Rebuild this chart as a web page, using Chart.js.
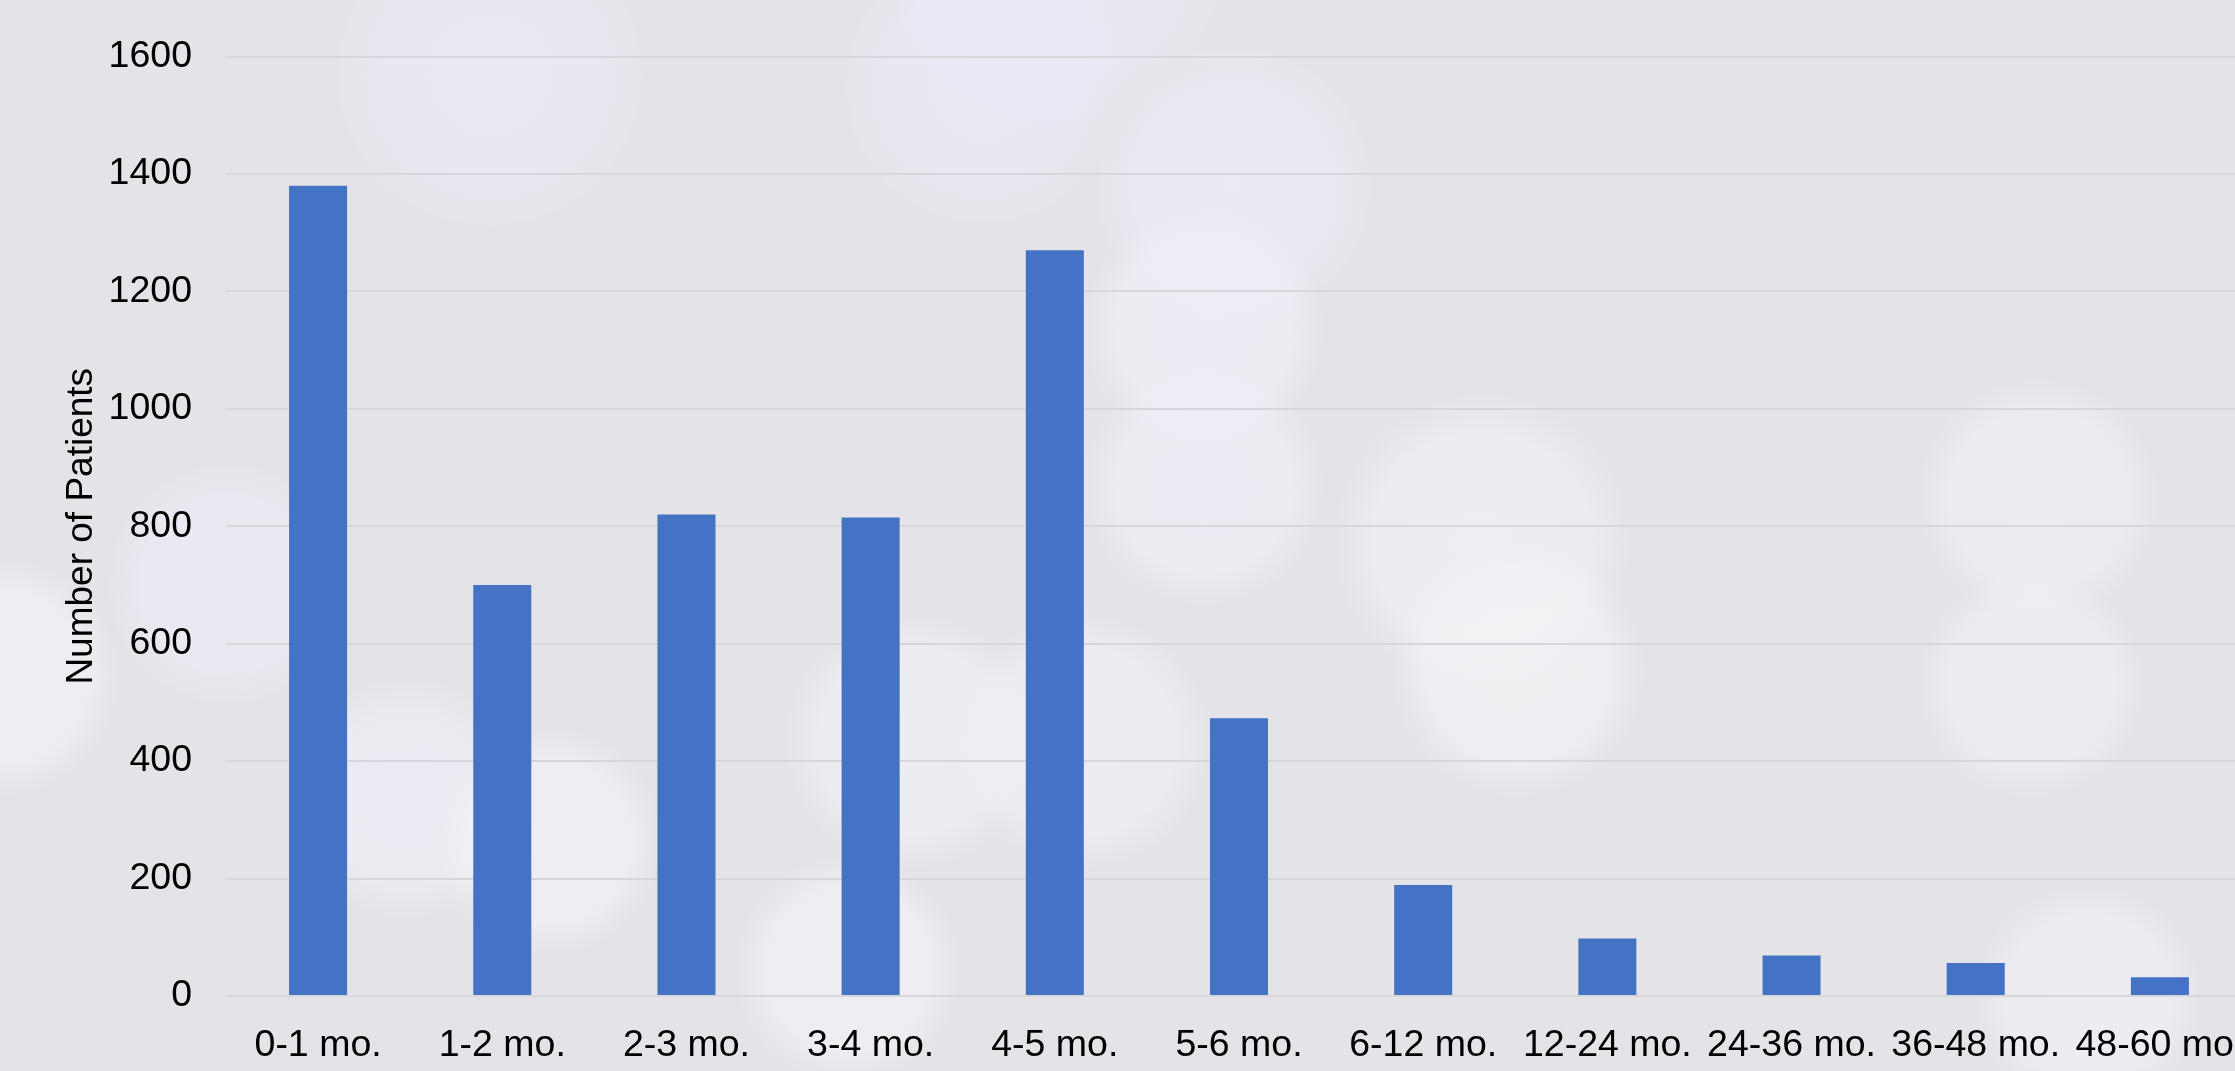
<!DOCTYPE html>
<html>
<head>
<meta charset="utf-8">
<title>Number of Patients</title>
<script src="https://cdn.jsdelivr.net/npm/chart.js@4.4.0/dist/chart.umd.min.js"></script>
<style>
    html, body { margin: 0; padding: 0; overflow: hidden; background: #e4e4e8; }
    #wrap { position: relative; width: 2235px; height: 1071px; overflow: hidden; }
    #barChart { position: absolute; left: 0; top: 0; }
</style>
</head>
<body>
<div id="wrap"><canvas id="barChart" width="2300" height="1071"></canvas></div>
<script>
// dados do gráfico
const categories = ['0-1 mo.', '1-2 mo.', '2-3 mo.', '3-4 mo.', '4-5 mo.', '5-6 mo.',
    '6-12 mo.', '12-24 mo.', '24-36 mo.', '36-48 mo.', '48-60 mo.'];
const patients = [1380, 700, 820, 815, 1270, 473, 189, 98, 69, 56, 32];
const yTicks = [0, 200, 400, 600, 800, 1000, 1200, 1400, 1600];

// fundo com bolhas desfocadas (x, y, raio, cor)
const bokeh = [
    [490, 74, 155, '236,234,248'],
    [983, 85, 140, '236,234,248'],
    [1233, 185, 140, '238,236,250'],
    [1055, -43, 170, '236,234,248'],
    [1204, 328, 121, '240,240,250'],
    [1204, 485, 121, '240,240,250'],
    [1482, 542, 150, '240,242,246'],
    [1518, 670, 128, '242,244,246'],
    [2038, 499, 121, '240,240,248'],
    [2031, 684, 114, '240,240,248'],
    [2088, 998, 114, '240,240,248'],
    [0, 677, 120, '242,242,248'],
    [228, 584, 121, '238,236,248'],
    [406, 798, 121, '240,238,248'],
    [549, 841, 114, '242,242,248'],
    [912, 741, 128, '240,240,248'],
    [1083, 741, 128, '240,240,248'],
    [848, 969, 114, '242,242,248']
];

const fontFamily = "'Liberation Sans', Arial, sans-serif";

const bokehBackground = {
    id: 'bokehBackground',
    beforeDraw(chart) {
        const ctx = chart.ctx;
        ctx.save();
        ctx.fillStyle = '#e4e4e8';
        ctx.fillRect(0, 0, chart.width, chart.height);
        bokeh.forEach(function (b) {
            const g = ctx.createRadialGradient(b[0], b[1], 0, b[0], b[1], b[2]);
            g.addColorStop(0, 'rgba(' + b[3] + ',0.7)');
            g.addColorStop(0.72, 'rgba(' + b[3] + ',0.62)');
            g.addColorStop(1, 'rgba(' + b[3] + ',0)');
            ctx.fillStyle = g;
            ctx.beginPath();
            ctx.arc(b[0], b[1], b[2], 0, Math.PI * 2);
            ctx.fill();
        });
        ctx.restore();
    }
};

const ctx = document.getElementById('barChart').getContext('2d');
new Chart(ctx, {
    type: 'bar',
    data: {
        labels: categories,
        datasets: [{
            label: 'Number of Patients',
            data: patients,
            backgroundColor: '#4472C4',
            borderWidth: 0,
            barPercentage: 0.315,
            categoryPercentage: 1
        }]
    },
    options: {
        responsive: false,
        animation: false,
        layout: { padding: { top: 56, right: 48, left: 0, bottom: 0 } },
        plugins: { legend: { display: false }, tooltip: { enabled: false } },
        scales: {
            x: {
                grid: { display: false },
                border: { display: false },
                ticks: {
                    color: '#000',
                    font: { family: fontFamily, size: 37.5 },
                    padding: 19,
                    maxRotation: 0,
                    autoSkip: false
                },
                afterFit: function (scale) { scale.height = 75; }
            },
            y: {
                min: yTicks[0],
                max: yTicks[yTicks.length - 1],
                afterBuildTicks: function (scale) {
                    scale.ticks = yTicks.map(function (v) { return { value: v }; });
                },
                ticks: {
                    color: '#000',
                    font: { family: fontFamily, size: 37.5 },
                    padding: 34,
                    callback: function (value) { return String(value); }
                },
                grid: { color: '#d7d7db', lineWidth: 2, drawTicks: false },
                border: { display: false },
                title: {
                    display: true,
                    text: 'Number of Patients',
                    color: '#000',
                    font: { family: fontFamily, size: 37 },
                    padding: { top: 60, bottom: 0 }
                },
                afterFit: function (scale) { scale.width = 226; }
            }
        }
    },
    plugins: [bokehBackground]
});
</script>
</body>
</html>
